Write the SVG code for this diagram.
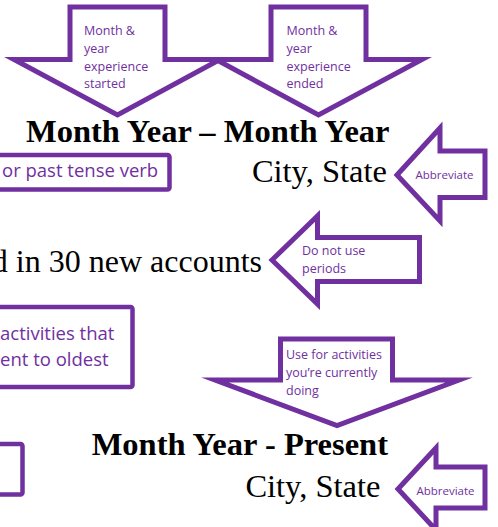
<svg xmlns="http://www.w3.org/2000/svg" width="498" height="527" viewBox="0 0 498 527">
<style>
.shape{fill:#ffffff;stroke:#7030A0;stroke-width:5;stroke-linejoin:miter;stroke-miterlimit:10}
.box{fill:#ffffff;stroke:#7030A0;stroke-width:4.5}
.lbl{font-family:"Open Sans","Noto Sans",sans-serif;fill:#7030A0;font-size:12.5px}
.small{font-size:11.5px}
.boxt{font-family:"Open Sans","Noto Sans",sans-serif;fill:#7030A0;font-size:18.5px}
.main{font-family:"Liberation Serif","Times New Roman",serif;fill:#000000;font-size:32.5px}
.acc{font-size:32px}
.bold{font-weight:bold}
</style>
<rect width="498" height="527" fill="#ffffff"/>

<g id="arrow-started">
<polygon class="shape" points="70,7 165,7 165,59.5 220,59.5 117.5,115 14,59.5 70,59.5"/>
<text class="lbl" x="84" y="35">Month &amp;</text>
<text class="lbl" x="84" y="52.5">year</text>
<text class="lbl" x="84" y="70.5">experience</text>
<text class="lbl" x="84" y="88">started</text>
</g>

<g id="arrow-ended">
<polygon class="shape" points="271,7 366,7 366,59.5 422,59.5 318.5,115 216,59.5 271,59.5"/>
<text class="lbl" x="286.5" y="35">Month &amp;</text>
<text class="lbl" x="286.5" y="52.5">year</text>
<text class="lbl" x="286.5" y="70.5">experience</text>
<text class="lbl" x="286.5" y="88">ended</text>
</g>

<g id="dates1">
<text class="main bold" x="389.5" y="141.5" text-anchor="end">Month Year – Month Year</text>
</g>

<g id="verb-box">
<rect class="box" x="-10" y="155" width="179.5" height="34.5" rx="2"/>
<text class="boxt" x="2" y="177">or past tense verb</text>
</g>

<g id="city1">
<text class="main" x="387" y="181.5" text-anchor="end">City, State</text>
</g>

<g id="abbrev1">
<polygon class="shape" points="397,175 440,128 440,151 485,151 485,197.5 440,197.5 440,221"/>
<text class="lbl small" x="444.5" y="178.5" text-anchor="middle">Abbreviate</text>
</g>

<g id="accounts">
<text class="main acc" x="262" y="271.5" text-anchor="end">d in 30 new accounts</text>
</g>

<g id="periods-arrow">
<polygon class="shape" points="272,260 317.5,216 317.5,237.5 419.5,237.5 419.5,281.5 317.5,281.5 317.5,304"/>
<text class="lbl" x="302" y="255">Do not use</text>
<text class="lbl" x="302" y="273">periods</text>
</g>

<g id="order-box">
<rect class="box" x="-10" y="307" width="142.5" height="80" rx="2"/>
<text class="boxt" x="0" y="340">activities that</text>
<text class="boxt" x="0" y="366">ent to oldest</text>
</g>

<g id="current-arrow">
<polygon class="shape" points="280.5,339 392.5,339 392.5,380 459,380 337,425.5 215,380 280.5,380"/>
<text class="lbl" x="286" y="359">Use for activities</text>
<text class="lbl" x="286" y="377">you’re currently</text>
<text class="lbl" x="286" y="394.5">doing</text>
</g>

<g id="dates2">
<text class="main bold" x="388" y="455" text-anchor="end">Month Year - Present</text>
</g>

<g id="left-box">
<rect class="box" x="-10" y="444" width="32.5" height="50.5" rx="2"/>
</g>

<g id="city2">
<text class="main" x="380.5" y="496.5" text-anchor="end">City, State</text>
</g>

<g id="abbrev2">
<polygon class="shape" points="398,489 436,448 436,467 485,467 485,508 436,508 436,530"/>
<text class="lbl small" x="445.5" y="495" text-anchor="middle">Abbreviate</text>
</g>
</svg>
